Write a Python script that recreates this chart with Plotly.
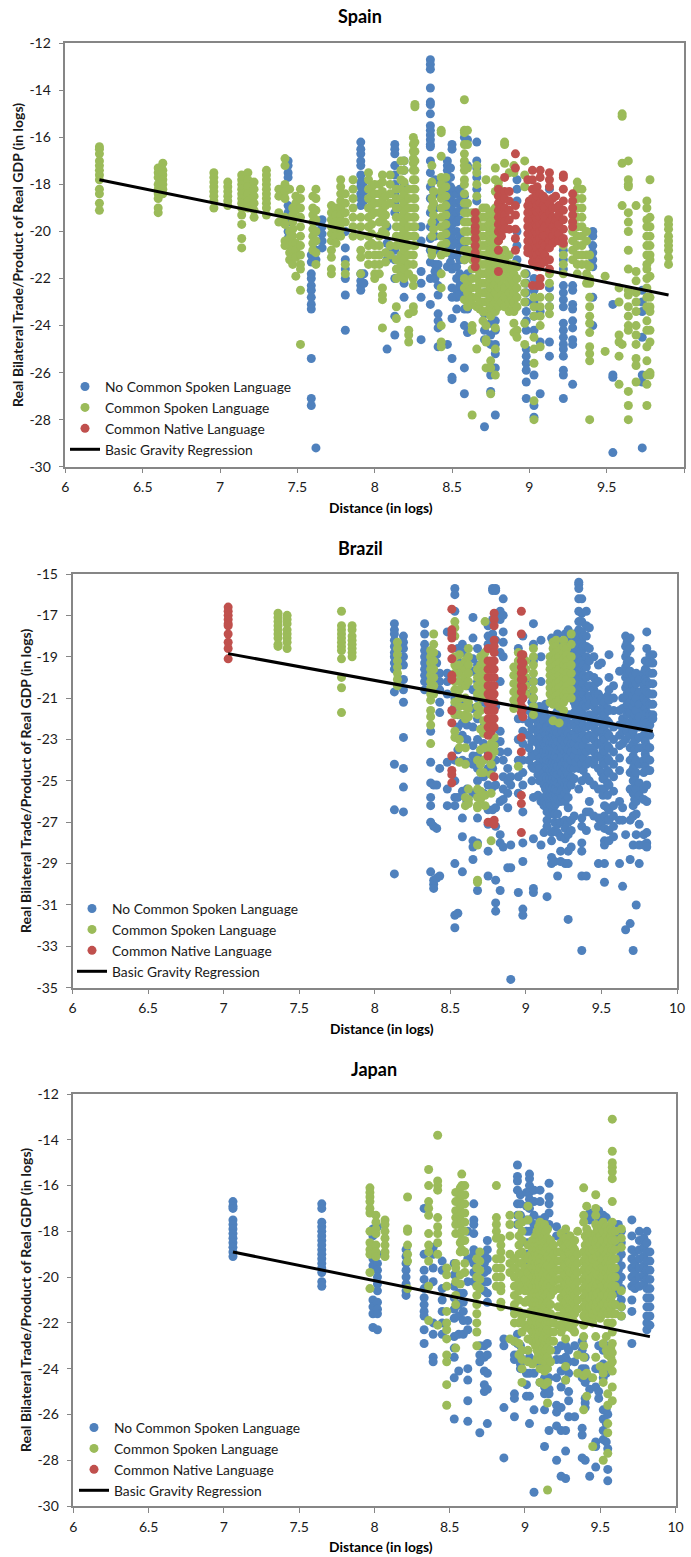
import plotly.graph_objects as go

SERIES_NAMES = ["No Common Spoken Language", "Common Spoken Language", "Common Native Language", "Basic Gravity Regression"]
COLORS = ["#4F81BD", "#9BBB59", "#C0504D", "#000000"]
X_TICKS = [6, 6.5, 7, 7.5, 8, 8.5, 9, 9.5, 10]
SPAIN_Y_TICKS = [-12, -14, -16, -18, -20, -22, -24, -26, -28, -30]
BRAZIL_Y_TICKS = [-15, -17, -19, -21, -23, -25, -27, -29, -31, -33, -35]
JAPAN_Y_TICKS = [-12, -14, -16, -18, -20, -22, -24, -26, -28, -30]

SPAIN_LINE_X = [6.22, 9.9]
SPAIN_LINE_Y = [-17.8, -22.7]
BRAZIL_LINE_X = [7.03, 9.84]
BRAZIL_LINE_Y = [-18.85, -22.6]
JAPAN_LINE_X = [7.06, 9.83]
JAPAN_LINE_Y = [-18.9, -22.6]

SPAIN_NONE = [
 (7.44,[-17.0,-17.2,-17.5,-17.7,-18.9,-19.2,-19.6,-20.0,-20.3]),
 (7.59,[-21.0,-21.3,-21.8,-22.0,-22.3,-22.5,-22.8,-23.1,-23.3,-25.4,-27.1,-27.4]),
 (7.62,[-29.2,-19.6,-20.0,-20.4,-20.8,-21.2]),
 (7.66,[-19.5,-19.8,-20.1,-20.4,-20.7]),
 (7.81,[-20.0,-20.7,-21.2,-21.6,-22.0,-22.7,-24.2]),
 (7.91,[-16.2,-16.5,-16.7,-17.0,-17.2,-17.6,-17.9,-18.1,-18.4,-18.6,-18.9,-21.8,-22.1,-22.3,-22.5]),
 (7.93,[-17.9,-18.3,-18.7,-21.8,-22.2]),
 (8.08,[-25.0,-20.5,-20.9,-21.2,-19.8]),
 (8.13,[-16.3,-16.5,-16.7,-17.2,-17.6,-18.0,-18.4,-18.8,-19.2,-20.8,-21.2,-22.0,-23.6,-24.4]),
 (8.19,[-17.0,-17.4,-18.0,-22.2,-22.8]),
 (8.30,[-19.8,-20.4,-21.7,-22.2,-22.8,-24.6]),
 (8.36,[-12.7,-12.9,-13.1,-13.9,-14.5,-14.6,-15.0,-15.5,-15.7,-15.9,-16.1,-16.3,-16.4,-17.0,-17.5,-18.1,-18.6,-19.2,-19.8,-20.3,-20.8,-21.3,-22.0,-23.1]),
 (8.39,[-17.8,-18.4,-19.0,-19.6,-20.2,-20.8,-21.4,-21.7,-22.0]),
 (8.41,[-21.4,-21.7,-22.3,-22.7,-23.5,-23.8,-24.1,-24.9]),
 (8.47,[-17.0,-17.2,-17.4,-17.7,-18.0,-18.4,-18.8,-19.2,-19.6,-20.0,-20.4,-20.8,-21.5,-24.8]),
 (8.49,[-17.3,-17.7,-18.1,-18.5,-18.9,-19.3,-19.7,-20.1,-20.5,-20.9,-21.3]),
 (8.50,[-16.3,-16.5,-18.2,-18.5,-18.8,-19.1,-19.4,-19.7,-20.0,-20.3,-20.6,-21.0,-21.6,-22.4,-22.8,-23.7,-25.4,-26.2,-26.3]),
 (8.53,[-18.4,-18.8,-19.2,-19.6,-20.0,-20.5,-21.0,-21.5,-22.0,-22.5,-22.8,-23.3]),
 (8.55,[-18.2,-18.7,-19.1,-19.5,-20.2,-20.7,-21.2,-21.8,-22.3,-22.7]),
 (8.58,[-16.0,-18.5,-19.0,-20.5,-21.2,-22.2,-22.5,-23.3,-24.0,-25.8,-26.9]),
 (8.60,[-16.1,-17.2,-21.8,-22.6,-23.3,-24.3]),
 (8.66,[-16.2,-17.0,-17.3,-17.7,-18.2,-18.7]),
 (8.71,[-22.6,-23.5,-24.2,-24.6,-28.3]),
 (8.75,[-23.4,-23.9,-24.4,-24.8,-26.1,-26.8]),
 (8.78,[-22.7,-23.2,-23.8,-24.2,-24.8,-25.2,-25.8,-27.8]),
 (8.92,[-17.8,-18.2,-18.7,-20.0,-20.6,-21.2]),
 (8.98,[-21.8,-22.2,-22.6,-23.0,-23.4,-23.8,-24.2,-25.0,-25.3,-25.6,-25.9,-26.4,-27.1]),
 (9.03,[-22.0,-22.5,-23.0,-23.6,-24.2,-26.1,-27.4,-27.9]),
 (9.07,[-23.4,-24.7,-26.9]),
 (9.13,[-18.2,-22.4,-22.8,-23.2,-24.7,-25.3]),
 (9.22,[-20.8,-21.2,-21.6,-22.3,-22.6,-22.9,-23.2,-23.9,-24.2,-24.5,-24.8,-25.0,-25.3,-25.9,-26.1,-27.1]),
 (9.28,[-22.3,-22.5,-23.1,-23.3,-23.8,-24.1,-24.6,-24.8,-26.5]),
 (9.41,[-20.0,-20.2,-20.6,-20.9,-21.2,-21.5,-22.8,-24.0]),
 (9.54,[-23.1,-26.1,-26.2,-29.4]),
 (9.73,[-22.5,-23.0,-23.4,-24.5,-26.1,-26.4,-29.2]),
]
SPAIN_SPOKEN = [
 (6.22,[-16.4,-16.5,-16.7,-17.0,-17.2,-17.4,-17.6,-17.8,-18.2,-18.4,-18.8,-19.1]),
 (6.60,[-17.3,-17.5,-17.7,-18.0,-18.2,-18.4,-18.6,-19.0,-19.2]),
 (6.63,[-17.1,-17.4,-17.6,-17.8,-18.0,-18.2,-18.4]),
 (6.96,[-17.5,-17.7,-17.9,-18.1,-18.3,-18.5,-18.7,-19.0]),
 (7.05,[-17.9,-18.1,-18.3,-18.5,-18.7,-18.9]),
 (7.14,[-17.6,-17.8,-18.0,-18.2,-18.4,-18.6,-18.8,-19.0,-19.3,-19.7,-20.3,-20.7]),
 (7.18,[-17.5,-17.8,-18.1,-18.4,-18.7,-19.0]),
 (7.22,[-17.9,-18.2,-18.5,-18.8,-19.1,-19.4]),
 (7.30,[-17.4,-17.6,-17.8,-18.0,-18.2,-18.4,-18.6,-18.8,-19.0,-19.3]),
 (7.38,[-18.2,-18.5,-19.2,-19.6]),
 (7.42,[-16.9,-17.2,-18.0,-18.3,-18.6,-19.4,-19.7,-20.4,-20.6]),
 (7.45,[-18.2,-20.0,-20.3,-20.6,-20.9,-21.2]),
 (7.47,[-19.0,-19.3,-19.6,-19.9,-20.2,-20.5,-20.8,-21.1,-21.4]),
 (7.49,[-18.5,-18.8,-19.1,-20.5,-20.8,-21.1,-21.9]),
 (7.52,[-18.2,-18.6,-19.0,-19.4,-19.8,-20.2,-20.6,-21.0,-21.4,-21.6,-22.5,-24.8]),
 (7.60,[-18.5,-19.0,-19.3,-19.6,-19.9,-20.2,-20.5,-20.8]),
 (7.62,[-18.2,-18.6,-19.1,-19.5,-20.0,-20.4,-20.9,-21.4]),
 (7.72,[-18.9,-19.2,-19.5,-19.8,-20.1,-20.4,-20.8,-21.1,-21.6,-21.8]),
 (7.75,[-19.0,-19.3,-19.6,-19.9,-20.2,-20.5]),
 (7.78,[-17.8,-18.1,-18.4,-18.7,-19.0,-19.3,-19.6,-19.9,-20.2]),
 (7.81,[-18.4,-18.8,-19.2,-19.6,-21.4,-21.8]),
 (7.86,[-17.8,-18.2,-18.6,-19.0,-19.4,-19.8,-20.2]),
 (7.91,[-19.4,-19.8,-20.2,-20.8,-21.1,-21.8]),
 (7.96,[-17.5,-17.8,-18.2,-18.6,-19.0,-19.4,-19.8,-20.2,-20.6,-21.0,-21.4]),
 (7.98,[-18.1,-18.5,-18.9,-19.3,-19.7,-20.1,-20.5]),
 (8.00,[-18.0,-18.4,-18.8,-19.2,-20.6,-21.0,-21.4,-21.8,-22.0]),
 (8.03,[-18.0,-18.4,-18.8,-19.2,-19.6,-20.2,-20.6,-21.0,-21.4,-21.8]),
 (8.05,[-17.6,-17.9,-18.3,-18.7,-19.1,-19.5,-20.0,-22.4,-22.7,-22.9,-24.1]),
 (8.07,[-18.5,-18.9,-19.3,-19.7,-20.1,-20.9,-21.3]),
 (8.10,[-17.6,-18.0,-18.4,-18.8,-20.6,-21.0]),
 (8.14,[-18.2,-18.6,-19.0,-19.4,-19.8,-20.2,-20.6,-21.2,-21.6,-22.0,-23.2,-23.7]),
 (8.17,[-17.0,-17.4,-17.8,-18.2,-18.6,-19.0,-19.4,-19.8,-20.2,-20.6,-21.0,-21.4,-21.8]),
 (8.19,[-17.0,-17.4,-17.9,-18.4,-18.8,-19.2,-19.6,-20.0,-20.4,-20.8,-21.2,-21.6,-22.0]),
 (8.22,[-18.2,-18.6,-19.0,-19.4,-19.8,-20.2,-20.6,-21.0,-21.4,-21.8,-23.5,-24.2,-24.4,-24.7]),
 (8.25,[-16.0,-16.3,-16.6,-16.9,-17.1,-17.4,-17.8,-18.2,-18.6,-19.0,-19.4,-19.8,-20.2,-20.6,-21.0,-21.4,-22.0,-22.3,-23.2,-23.4]),
 (8.26,[-14.6,-14.7,-16.2,-16.6,-17.0,-17.4,-17.8,-18.2,-18.6,-19.0,-19.4,-19.8,-20.2,-20.6]),
 (8.37,[-17.2,-17.9,-18.6,-19.0,-19.6,-20.2,-20.8,-21.0]),
 (8.38,[-18.3,-18.8,-19.3,-19.9]),
 (8.43,[-15.7,-15.8,-16.8,-17.7,-18.0,-18.3,-18.6,-19.0,-19.4,-19.8,-20.2,-20.6,-21.0,-21.8,-22.4,-24.0,-24.7,-24.9]),
 (8.46,[-17.7,-18.1,-18.5,-18.9,-19.3,-19.7,-20.1,-20.5,-20.9]),
 (8.58,[-14.4,-15.7,-15.8,-16.3,-16.7,-17.0,-17.2,-17.4,-17.8,-18.0,-18.4,-18.8,-19.2,-19.6,-20.0,-20.4,-20.8,-21.2,-22.0,-22.4,-22.9]),
 (8.60,[-15.7,-16.3,-17.3,-18.8,-19.2,-19.6,-20.0,-20.4,-20.8,-21.0,-22.2,-22.6,-23.0,-23.2]),
 (8.63,[-19.2,-19.6,-20.0,-20.4,-20.8,-21.2,-21.6,-22.0,-22.4,-22.8,-23.1,-24.0,-24.2,-27.8]),
 (8.66,[-17.2,-17.5,-18.0,-18.5,-19.2,-19.6,-20.0,-20.4,-20.8,-21.2,-21.6,-22.0,-22.4,-22.8,-23.2,-25.0]),
 (8.68,[-19.4,-19.8,-20.2,-20.6,-21.0,-21.4,-21.8,-22.2,-22.6,-23.0,-23.3]),
 (8.70,[-19.0,-19.4,-19.8,-20.2,-20.6,-21.0,-21.4,-21.8,-22.2,-22.6,-23.0,-23.4,-23.8]),
 (8.72,[-17.8,-19.0,-19.4,-19.8,-20.2,-20.6,-21.0,-21.4,-21.8,-22.2,-22.6,-23.0,-23.4,-24.0,-24.6,-24.7,-25.8]),
 (8.74,[-19.3,-19.7,-20.1,-20.5,-20.9,-21.3,-21.7,-22.1,-22.5,-22.9,-23.3]),
 (8.75,[-19.2,-19.6,-20.0,-20.4,-20.8,-21.2,-21.6,-22.0,-22.4,-22.8,-23.2,-23.6,-25.5,-25.8,-26.9]),
 (8.77,[-19.1,-19.5,-19.9,-20.3,-20.7,-21.1,-21.5,-21.9,-22.3,-22.7,-23.1]),
 (8.78,[-17.3,-17.8,-18.3,-19.0,-19.4,-19.8,-20.2,-20.6,-21.0,-21.4,-21.8,-22.2,-22.6,-23.0,-23.4,-24.1,-25.0,-26.1]),
 (8.80,[-17.9,-18.1,-19.2,-19.6,-20.0,-20.4,-20.8,-21.2,-21.6,-22.0,-22.4,-22.8,-23.2]),
 (8.82,[-21.1,-21.5,-21.9,-22.3,-22.7,-23.0]),
 (8.84,[-16.2,-16.3,-17.1,-20.8,-21.2,-21.6,-22.0,-22.4,-22.8,-23.2]),
 (8.87,[-17.5,-21.0,-21.4,-21.8,-22.2,-22.6,-23.0,-23.4]),
 (8.89,[-21.7,-22.1,-22.5,-22.9,-23.3]),
 (8.90,[-17.2,-17.5,-21.4,-21.8,-22.2,-22.6,-23.0,-23.4,-23.9,-24.3]),
 (8.92,[-21.5,-22.0,-22.4,-22.8,-23.2,-24.2,-24.5]),
 (8.97,[-17.0,-17.6,-18.1,-21.8,-22.2,-22.6,-23.0,-24.8,-23.9]),
 (9.03,[-22.8,-23.2,-23.6,-24.5,-25.0,-25.6,-27.2,-28.0]),
 (9.07,[-22.8,-23.2,-23.6,-24.0,-24.9]),
 (9.13,[-21.8,-22.2,-22.8,-23.2,-23.5]),
 (9.22,[-20.6,-21.0,-21.4,-21.8]),
 (9.28,[-19.6,-20.0,-20.4,-20.8,-21.2]),
 (9.31,[-17.9,-18.2,-18.6,-19.0,-19.4,-19.8,-20.2,-20.6,-21.0,-21.4,-21.8]),
 (9.34,[-18.2,-18.6,-19.0,-19.4,-19.8,-20.2,-20.6,-21.0,-21.4]),
 (9.37,[-20.0,-20.4,-21.0,-21.4,-21.8,-22.2]),
 (9.39,[-21.0,-21.5,-22.0,-22.2,-22.8,-23.2,-23.6,-23.9,-24.3,-24.9,-25.2,-25.5,-28.0]),
 (9.49,[-21.9,-25.1]),
 (9.58,[-22.4,-23.0,-24.4,-24.7,-25.3,-26.5]),
 (9.60,[-15.0,-15.1,-17.1,-18.9,-24.8]),
 (9.64,[-17.0,-17.8,-18.0,-18.1,-19.2,-19.6,-20.0,-20.8,-21.6,-22.5,-22.7,-23.2,-23.6,-24.0,-24.2,-26.8,-27.4,-28.0]),
 (9.69,[-18.9,-21.7,-22.1,-22.6,-23.0,-23.4,-24.0,-24.4,-24.8,-25.4,-25.7,-26.4]),
 (9.76,[-18.7,-19.0,-19.5,-19.8,-20.2,-20.6,-21.0,-21.4,-21.6,-22.0,-22.4,-22.8,-23.2,-23.8,-24.2,-24.9,-25.5,-26.1,-26.5,-27.4]),
 (9.78,[-17.8,-19.4,-19.8,-20.2,-20.6,-21.0,-21.2,-21.9,-22.8,-23.2,-23.4,-24.2,-24.7,-26.0,-26.1]),
 (9.90,[-19.5,-19.7,-19.9,-20.2,-20.4,-20.6,-20.8,-21.1,-21.4]),
]
SPAIN_NATIVE = [
 (8.65,[-19.2,-19.5,-19.8,-20.0,-20.3,-20.6,-20.9,-21.2,-21.5]),
 (8.80,[-18.2,-18.5,-18.8,-19.1,-19.4,-19.7,-20.0,-20.4,-20.8,-21.7]),
 (8.82,[-18.4,-18.7,-19.0,-19.3,-19.6,-19.9,-20.2]),
 (8.84,[-17.7,-18.3,-18.6,-19.0,-19.3,-19.6,-19.9]),
 (8.87,[-18.3,-18.7,-19.1,-19.5,-19.9]),
 (8.91,[-16.7,-17.3,-18.9,-19.3,-19.9,-20.3,-20.8]),
 (8.99,[-17.8,-18.9,-19.2,-19.5,-19.8,-20.1,-20.4,-20.7,-20.9]),
 (9.00,[-18.7,-19.1,-19.4,-19.7,-20.0,-20.3,-20.6]),
 (9.02,[-17.4,-17.8,-18.2,-18.6,-18.9,-19.2,-19.5,-19.8,-20.1,-20.4,-20.7,-21.0,-21.3,-22.3]),
 (9.04,[-18.3,-18.7,-19.1,-19.4,-19.7,-20.0,-20.3,-20.6,-20.9,-21.2]),
 (9.05,[-18.1,-18.5,-18.9,-19.2,-19.5,-19.8,-20.1,-20.4,-20.7,-21.0,-21.3,-21.5,-22.3]),
 (9.07,[-17.4,-17.7,-18.4,-18.8,-19.1,-19.4,-19.7,-20.0,-20.3,-20.6,-20.9,-21.2,-21.5,-22.0,-22.3]),
 (9.09,[-18.5,-18.9,-19.3,-19.6,-19.9,-20.2,-20.5,-20.8,-21.1]),
 (9.10,[-18.6,-19.0,-19.4,-19.8,-20.2,-20.6,-21.0,-21.3]),
 (9.13,[-17.5,-17.8,-18.1,-18.8,-19.2,-19.6,-20.0,-20.4,-20.7,-21.2,-21.6]),
 (9.15,[-18.6,-19.0,-19.4,-19.8,-20.2,-20.5]),
 (9.17,[-18.5,-19.0,-19.5,-20.0,-20.4]),
 (9.19,[-18.9,-19.3,-19.7,-20.1,-20.4]),
 (9.22,[-17.6,-17.7,-18.2,-18.7,-19.1,-19.5,-19.9,-20.3,-20.5]),
 (9.28,[-18.4,-18.7,-19.0,-19.3,-19.6,-19.8]),
]

BRAZIL_NONE = [
 (8.13,[-17.4,-17.7,-17.9,-18.2,-18.5,-18.8,-19.0,-19.3,-19.6,-20.7,-24.2,-26.4,-29.5]),
 (8.19,[-18.0,-18.3,-18.6,-19.0,-19.4,-20.1,-20.6,-21.2,-22.9,-24.4,-25.3,-26.5]),
 (8.33,[-17.4,-17.9,-18.4,-18.7,-19.0,-19.3,-19.6,-19.9,-20.2,-20.6]),
 (8.37,[-19.0,-19.5,-22.6,-24.1,-25.1,-25.8,-26.2,-27.0,-29.4]),
 (8.39,[-25.2,-27.2,-30.0,-30.2,-29.8]),
 (8.41,[-18.9,-19.3,-25.2,-27.3,-29.7]),
 (8.43,[-19.8,-20.2,-20.6,-21.2,-21.7,-24.4,-29.6]),
 (8.48,[-19.8,-20.2,-20.8,-24.1,-25.4,-26.2,-17.8]),
 (8.53,[-15.7,-16.0,-16.8,-21.0,-21.4,-24.0,-25.0,-25.8,-26.2,-29.0,-31.5,-32.1]),
 (8.55,[-18.6,-19.2,-19.8,-21.8,-22.4,-23.5,-25.8,-31.4]),
 (8.58,[-18.4,-18.8,-19.6,-20.2,-21.1,-22.2,-22.8,-24.0,-25.5,-26.8,-27.7,-29.4]),
 (8.61,[-19.4,-20.4,-21.2,-22.3,-23.0,-24.1,-25.4,-26.0]),
 (8.65,[-17.1,-18.1,-19.1,-19.7,-20.6,-21.5,-22.4,-23.3,-23.8,-24.2,-25.6,-27.9,-28.2,-28.8]),
 (8.68,[-18.6,-19.4,-20.2,-21.0,-22.0,-23.0,-23.8,-24.4,-25.0,-26.8,-28.0,-30.3]),
 (8.72,[-18.9,-19.7,-20.5,-21.2,-22.4,-23.2,-24.0,-24.8,-25.6]),
 (8.75,[-17.5,-18.0,-18.4,-19.4,-20.4,-21.4,-22.6,-23.6,-24.4,-25.2,-26.4,-27.1,-28.4,-29.6]),
 (8.78,[-15.7,-15.8,-17.2,-17.9,-21.5,-22.5,-23.5,-24.4,-25.3,-26.4]),
 (8.80,[-15.7,-15.8,-17.0,-18.2,-21.4,-23.2,-24.0,-25.2,-26.3,-27.2,-29.8,-30.9,-31.3]),
 (8.83,[-16.8,-17.2,-18.8,-20.2,-22.6,-23.1,-23.6,-26.0,-27.6,-28.0,-30.3]),
 (8.85,[-16.2,-17.0,-17.8,-18.3,-19.0,-24.0,-24.8,-25.4,-25.9,-28.2]),
 (8.88,[-23.6,-24.4,-25.0,-25.6,-26.3,-29.2]),
 (8.90,[-28.1,-29.2,-34.6,-24.8,-25.2]),
 (8.95,[-18.6,-20.0,-22.0,-23.0,-24.0,-24.8,-25.6,-30.4]),
 (8.98,[-18.0,-19.0,-20.0,-21.0,-22.0,-22.6,-23.2,-24.0,-24.6,-25.2,-26.5,-28.0,-28.9,-31.2,-31.5]),
 (9.02,[-20.2,-20.8,-21.6,-22.2,-22.8,-23.4,-24.0]),
 (9.04,[-21.2,-21.9,-22.5,-23.1,-23.7,-24.3,-25.0]),
 (9.05,[-17.4,-18.4,-19.2,-20.2,-21.0,-22.0,-23.0,-23.8,-24.4,-25.8,-27.8,-30.4,-30.2]),
 (9.08,[-21.8,-22.3,-22.7,-23.2,-23.6,-24.2,-24.7,-25.7]),
 (9.09,[-21.4,-22.0,-22.5,-23.0,-23.4,-23.9,-24.4,-25.0]),
 (9.10,[-18.2,-19.0,-20.2,-21.5,-22.0,-22.4,-22.9,-23.3,-26.0,-28.1]),
 (9.12,[-21.6,-22.1,-22.6,-23.2,-23.6,-24.0,-24.6,-25.2,-25.8,-26.2,-27.5]),
 (9.13,[-21.3,-21.9,-22.4,-22.8,-23.3,-23.8,-24.3,-24.8,-25.4,-26.0]),
 (9.14,[-22.4,-23.0,-23.5,-24.0,-24.4,-24.9,-25.3,-25.7,-26.1,-26.5,-26.9,-27.2,-30.6]),
 (9.16,[-22.2,-22.7,-23.2,-23.6,-24.1,-24.5,-24.9,-25.3,-25.7,-26.1,-26.6]),
 (9.17,[-18.1,-22.0,-22.5,-22.9,-23.4,-23.8,-24.2,-24.6,-25.0,-25.4,-25.8,-26.2,-27.5,-27.9,-28.7,-29.0]),
 (9.18,[-21.9,-22.3,-22.8,-23.2,-23.7,-24.1,-24.5,-24.9,-25.3,-25.7,-26.4]),
 (9.19,[-21.8,-22.2,-22.6,-23.0,-23.4,-23.8,-24.2,-24.6,-25.0,-25.4,-25.8,-26.2,-26.6,-27.0,-27.4,-28.9]),
 (9.20,[-22.1,-22.5,-22.9,-23.3,-23.7,-24.1,-24.5,-24.9,-25.3,-25.7,-26.1]),
 (9.21,[-17.9,-21.6,-22.2,-22.7,-23.1,-23.5,-23.9,-24.3,-24.7,-25.1,-25.5,-25.9,-26.6,-27.1,-27.5,-29.6]),
 (9.23,[-18.3,-21.8,-22.3,-22.8,-23.2,-23.6,-24.0,-24.4,-24.8,-25.2,-25.6,-26.0,-27.0,-27.7,-28.4,-28.9]),
 (9.24,[-21.9,-22.6,-23.0,-23.4,-23.8,-24.2,-24.6,-25.0,-25.4,-25.8]),
 (9.26,[-17.9,-22.0,-22.4,-22.8,-23.2,-23.6,-24.0,-24.4,-24.8,-25.2,-25.6,-26.0,-26.9,-27.3,-27.8,-29.0]),
 (9.27,[-22.2,-22.6,-23.0,-23.4,-23.8,-24.2,-24.6,-25.0,-25.4]),
 (9.28,[-17.7,-18.2,-18.7,-21.8,-22.2,-22.7,-23.1,-23.5,-23.9,-24.3,-24.7,-25.2,-25.8,-26.3,-27.0,-27.6,-28.4,-29.0,-31.7]),
 (9.30,[-18.5,-18.9,-21.8,-22.3,-22.8,-23.2,-23.6,-24.0,-24.4,-24.8,-25.2,-26.9,-27.4,-28.2]),
 (9.32,[-17.9,-18.4,-18.8,-19.2,-19.6,-20.0,-20.4,-20.8,-21.2,-21.7,-22.2,-22.7,-23.2,-23.8,-24.4,-24.9,-26.7]),
 (9.33,[-18.2,-18.6,-19.0,-19.4,-19.8,-20.2,-20.6,-21.0,-21.4,-21.9,-22.4,-22.9,-23.5,-24.1]),
 (9.35,[-15.4,-15.5,-15.7,-16.2,-16.8,-17.3,-17.7,-18.1,-18.5,-18.9,-19.3,-19.7,-20.1,-20.5,-20.9,-21.3,-21.7,-22.1,-22.5,-22.9,-23.3,-23.9,-24.4,-25.4]),
 (9.37,[-16.2,-16.9,-17.3,-17.8,-18.3,-18.7,-19.2,-19.6,-20.0,-20.5,-21.0,-21.5,-22.0,-22.5,-23.0,-23.6,-24.2,-25.0,-26.8,-27.2,-28.0,-28.4,-29.6,-33.2]),
 (9.38,[-18.0,-18.5,-19.4,-19.9,-20.3,-20.8,-21.3,-21.8,-22.3,-22.8,-23.3,-23.9,-24.5]),
 (9.40,[-16.8,-17.5,-18.0,-18.5,-19.0,-19.5,-20.0,-20.5,-21.0,-21.4,-21.9,-22.4,-23.0,-23.6,-24.2,-24.8,-26.5,-27.4,-29.6]),
 (9.42,[-17.6,-18.6,-19.2,-19.9,-20.4,-20.9,-21.3,-21.8,-22.3,-22.8,-23.4,-24.0,-25.0,-26.0,-26.5]),
 (9.45,[-19.0,-20.0,-20.6,-21.0,-21.4,-22.0,-22.4,-23.0,-23.6,-24.2,-25.2,-26.7]),
 (9.46,[-20.3,-20.8,-21.2,-21.7,-22.2,-22.7,-23.3,-23.9]),
 (9.48,[-19.4,-20.2,-20.8,-21.6,-22.1,-22.6,-23.2,-23.8,-24.4,-25.4,-26.8,-27.2,-29.0]),
 (9.50,[-19.3,-21.0,-21.6,-22.0,-22.6,-23.2,-23.8,-24.6,-25.4,-26.8,-27.0]),
 (9.51,[-21.3,-21.9,-22.3,-22.9,-23.5,-24.1,-24.9,-25.7]),
 (9.52,[-21.2,-21.8,-22.4,-23.0,-23.6,-24.2,-24.8,-25.4,-26.2,-26.7,-27.3,-27.9,-28.1,-29.0,-29.9]),
 (9.54,[-20.9,-21.5,-22.1,-22.7,-23.3,-23.9,-24.5,-25.1,-25.7,-26.3,-26.9]),
 (9.55,[-18.9,-20.0,-20.6,-21.1,-21.6,-22.2,-22.8,-23.4,-24.0,-24.6,-25.2,-26.4,-26.9,-27.4,-27.9]),
 (9.58,[-20.4,-21.0,-21.6,-22.4,-23.0,-23.6,-24.2,-24.8,-25.5,-26.2,-26.7,-27.2,-27.7]),
 (9.62,[-19.7,-21.6,-22.3,-22.8,-23.3,-23.9,-24.5,-26.0,-26.9,-29.0]),
 (9.64,[-21.0,-21.5,-22.0,-22.6,-23.2,-26.3,-26.9,-30.1]),
 (9.66,[-18.0,-18.5,-19.0,-19.5,-20.0,-20.5,-21.0,-21.5,-22.2,-23.0,-27.6,-32.2]),
 (9.67,[-18.3,-18.8,-19.3,-19.8,-20.3,-20.8,-21.3,-21.8,-22.6]),
 (9.69,[-18.1,-18.6,-19.2,-19.7,-20.2,-20.7,-21.2,-21.7,-22.2,-22.8,-23.4,-24.0,-24.6,-25.4,-26.9,-28.8,-31.9]),
 (9.71,[-19.9,-20.4,-20.9,-21.4,-22.0,-22.6,-23.2,-23.8,-24.4,-25.0,-25.6,-26.2,-26.7,-28.1,-33.2]),
 (9.72,[-20.1,-20.6,-21.2,-21.8,-22.3,-22.9,-23.5,-24.2,-24.8,-25.3,-25.9]),
 (9.73,[-19.8,-20.3,-21.0,-21.6,-22.2,-23.0,-24.0,-24.6,-25.4,-26.0,-26.6,-27.6,-31.0]),
 (9.75,[-20.1,-20.7,-21.3,-21.9,-22.4,-22.9,-23.4,-24.2,-25.1,-25.7,-27.1,-28.1,-29.0]),
 (9.78,[-19.8,-20.4,-21.0,-21.6,-22.2,-22.8,-23.4,-24.0,-24.6,-25.4,-25.9,-27.6,-28.1]),
 (9.79,[-19.2,-19.6,-20.1,-20.6,-21.1,-21.5,-22.0,-22.5,-23.1,-23.7,-24.3]),
 (9.80,[-17.8,-18.6,-19.2,-19.7,-20.2,-20.7,-21.2,-21.7,-22.2,-22.7,-23.3,-23.9,-24.5,-25.2,-26.0,-27.5,-28.0,-28.2]),
 (9.82,[-18.9,-19.3,-19.8,-20.3,-20.8,-21.3,-21.8,-22.3,-22.8,-23.4,-24.0,-24.5]),
 (9.84,[-18.9,-19.3,-19.8,-20.3,-20.8,-21.3,-21.8,-22.0]),
]
BRAZIL_SPOKEN = [
 (7.36,[-16.9,-17.1,-17.3,-17.5,-17.7,-17.9,-18.1,-18.4,-18.5]),
 (7.42,[-17.0,-17.2,-17.4,-17.7,-17.9,-18.1,-18.3,-18.6]),
 (7.78,[-16.8,-17.5,-17.7,-17.9,-18.1,-18.3,-18.5,-18.7,-19.1,-20.0,-20.5,-21.7]),
 (7.85,[-17.5,-17.7,-18.0,-18.2,-18.4,-18.6,-18.8,-19.0]),
 (8.15,[-18.3,-18.6,-18.9,-19.2,-19.5,-19.8,-20.1,-20.4]),
 (8.37,[-18.7,-19.0,-19.3,-19.6,-19.9,-20.2,-20.5,-20.8,-21.1,-21.6,-21.9,-22.3,-23.2]),
 (8.39,[-17.9,-18.4,-18.8,-19.2,-19.6,-20.0,-20.4,-20.8]),
 (8.53,[-17.3,-17.6,-18.0,-19.0,-19.4,-19.8,-20.2,-20.6,-21.2,-21.8,-22.6,-22.9]),
 (8.56,[-18.9,-19.4,-19.8,-20.2,-20.6,-21.0,-21.4,-21.8,-23.0,-23.4,-24.1]),
 (8.60,[-19.2,-19.6,-20.0,-20.4,-21.0,-21.4,-21.8,-22.0,-23.4,-24.2,-25.8,-26.2]),
 (8.62,[-18.6,-19.0,-19.4,-19.8,-20.2,-21.2,-21.5,-21.9,-25.4,-25.9,-26.1]),
 (8.68,[-19.6,-20.0,-20.4,-20.8,-21.4,-21.8,-24.0,-25.4,-25.8,-26.2,-26.3,-28.1,-29.8,-29.9]),
 (8.70,[-19.0,-19.4,-19.8,-20.2,-20.6,-21.0,-21.6,-22.5,-23.5,-24.2,-24.6,-25.5,-25.9]),
 (8.72,[-18.9,-19.3,-19.7,-20.1,-20.5,-20.9,-22.1,-22.7,-24.0,-24.6]),
 (8.73,[-17.3,-18.8,-19.2,-19.6,-22.4,-22.7,-23.4,-25.7,-26.2]),
 (8.77,[-22.3,-22.8,-23.2,-23.5,-23.8,-24.2,-24.7,-25.6,-27.9]),
 (8.79,[-22.9,-23.3,-23.6]),
 (8.92,[-19.5,-19.9,-20.3,-20.7,-21.1,-21.5]),
 (8.95,[-18.8,-19.2,-19.6,-20.0,-20.4,-20.8,-21.2,-24.3]),
 (9.00,[-19.2,-19.6,-20.0,-20.4,-20.8]),
 (9.05,[-18.6,-19.0,-19.4,-19.8,-20.2,-20.6,-21.0,-21.4,-21.8]),
 (9.16,[-19.0,-19.3,-19.6,-19.9,-20.2,-20.5,-20.8,-21.2]),
 (9.18,[-18.3,-18.6,-18.9,-19.2,-19.5,-19.8,-20.1,-20.4,-20.7,-21.0,-21.3,-22.1]),
 (9.20,[-18.2,-18.5,-18.8,-19.1,-19.4,-19.7,-20.0,-20.3,-20.6,-20.9,-21.2]),
 (9.22,[-18.7,-19.0,-19.3,-19.6,-19.9,-20.2,-20.5,-20.8,-21.1,-21.4,-22.2]),
 (9.25,[-18.2,-18.5,-18.8,-19.1,-19.4,-19.7,-20.0,-20.3,-20.6,-20.9,-21.2,-21.6]),
 (9.27,[-18.6,-18.9,-19.2,-19.5,-19.8,-20.1,-20.4,-20.7,-21.0]),
 (9.30,[-17.9,-18.4,-19.0,-19.4,-19.8,-20.2,-20.6,-21.0]),
]
BRAZIL_NATIVE = [
 (7.03,[-16.6,-16.8,-17.0,-17.2,-17.4,-17.5,-17.9,-18.3,-18.6,-19.1]),
 (8.51,[-16.7,-17.7,-17.9,-18.1,-18.6,-19.1,-19.9,-20.1,-21.6,-22.2,-23.8,-24.5,-24.7,-25.1]),
 (8.75,[-18.6,-19.2,-19.6,-20.0,-20.4,-20.8,-21.2,-21.6,-22.0,-22.4,-22.8,-23.8,-27.0]),
 (8.77,[-19.2,-19.6,-20.0,-20.4,-20.8,-21.2,-21.6,-22.0,-22.4,-22.6]),
 (8.79,[-16.9,-17.2,-17.5,-18.2,-18.5,-18.8,-19.2,-19.6,-20.0,-20.4,-20.8,-21.2,-21.6,-22.0,-22.4,-24.8,-26.9,-27.1]),
 (8.97,[-16.8,-17.9,-18.9,-19.2,-19.5,-19.8,-20.1,-20.4,-20.7,-21.1,-21.4,-21.7,-22.9,-23.6,-25.7,-26.1,-27.5]),
 (8.98,[-18.9,-19.3,-19.7,-20.1,-20.5,-21.0,-21.5,-21.9]),
]

JAPAN_NONE = [
 (7.06,[-16.7,-16.9,-17.0,-17.5,-17.7,-17.9,-18.1,-18.3,-18.5,-18.7,-18.9,-19.1]),
 (7.65,[-16.8,-17.0,-17.6,-17.8,-18.0,-18.2,-18.4,-18.6,-18.8,-19.0,-19.2,-19.4,-19.6,-19.8,-20.2,-20.4]),
 (7.99,[-17.9,-18.2,-19.2,-19.5,-21.0,-21.3,-21.6,-22.2]),
 (8.02,[-17.8,-19.0,-19.4,-19.7,-20.0,-20.3,-20.6,-21.1,-21.4,-21.6,-22.3]),
 (8.21,[-18.8,-19.1,-19.4,-19.7,-20.0,-20.3,-20.6,-20.8]),
 (8.33,[-17.0,-19.0,-19.7,-20.1,-20.5,-20.9,-21.2,-21.5,-21.7,-22.3,-22.9]),
 (8.39,[-18.7,-19.0,-19.6,-20.2,-22.0,-22.5,-23.5,-23.7]),
 (8.45,[-19.3,-19.7,-20.5,-21.0,-21.5,-22.0,-22.5]),
 (8.53,[-19.4,-19.9,-20.4,-20.9,-21.4,-21.8,-22.6,-23.1,-23.5,-24.4,-26.2]),
 (8.56,[-20.7,-21.2,-21.7,-22.5,-24.1]),
 (8.59,[-20.7,-21.1,-21.5,-21.9,-22.5]),
 (8.62,[-18.0,-19.2,-20.2,-21.9,-22.3,-24.0,-24.5,-25.4,-26.3]),
 (8.66,[-16.8,-17.5,-17.7,-18.1,-18.8,-19.0,-19.4,-19.8,-20.2]),
 (8.70,[-23.0,-23.4,-23.7,-26.8]),
 (8.73,[-19.0,-19.4,-19.8,-20.2,-20.6,-23.0,-23.5,-24.1,-24.7,-25.0]),
 (8.75,[-18.4,-18.8,-19.2,-19.7,-20.2,-20.7,-21.1,-22.9,-23.4,-24.2,-24.9,-26.4]),
 (8.86,[-22.7,-23.0,-25.7,-27.9]),
 (8.93,[-21.4,-22.8,-23.4,-23.6,-25.1,-25.3,-26.1]),
 (8.95,[-15.1,-15.6,-15.8,-16.2,-16.8,-17.3,-17.7,-22.5,-22.9,-23.4]),
 (8.97,[-16.4,-16.8,-17.3,-23.0,-23.5,-23.8,-24.0]),
 (9.01,[-16.3,-16.9,-17.5,-18.0,-18.5,-19.0,-19.5,-20.0,-24.2,-24.7,-25.2]),
 (9.03,[-15.5,-15.7,-16.0,-16.3,-16.6,-17.0,-17.5,-18.0,-18.5,-19.0,-23.5,-24.2,-25.2,-26.4]),
 (9.06,[-16.2,-16.7,-17.3,-17.7,-24.2,-25.8,-29.4]),
 (9.10,[-16.2,-16.7,-17.5,-23.2,-23.8,-24.6]),
 (9.13,[-17.4,-17.9,-24.4,-24.8,-25.1,-25.8,-27.4]),
 (9.16,[-15.9,-16.5,-16.8,-17.2,-17.7,-24.4,-24.9,-25.1,-26.7]),
 (9.21,[-17.8,-18.2,-23.2,-23.6,-24.4,-25.6,-25.9,-26.5,-28.0]),
 (9.24,[-23.0,-23.6,-24.1,-24.8,-25.7,-26.7,-28.7]),
 (9.27,[-23.0,-23.5,-24.0,-24.5,-26.7,-27.6,-28.8]),
 (9.29,[-18.2,-23.2,-23.7,-24.2,-25.0,-25.4,-26.1]),
 (9.33,[-23.0,-23.7,-26.1]),
 (9.38,[-22.8,-23.2,-24.0,-24.4,-26.6,-26.9,-27.9]),
 (9.40,[-23.5,-24.0,-24.6,-25.3,-25.5,-25.7,-28.0]),
 (9.43,[-17.2,-17.5,-24.4,-24.9,-28.7]),
 (9.47,[-17.2,-24.0,-24.8,-27.2,-27.4,-28.3]),
 (9.49,[-17.1,-17.5,-23.0,-24.0,-25.0,-25.3]),
 (9.52,[-17.3,-23.2,-23.8,-24.4,-25.8,-26.2,-26.7,-27.1]),
 (9.54,[-17.4,-23.0,-24.2,-25.8,-26.4,-27.2]),
 (9.55,[-24.0,-26.0,-27.5,-28.4,-28.9]),
 (9.62,[-17.7,-18.2,-18.7,-19.2,-19.7,-20.2,-20.7,-21.2]),
 (9.64,[-18.0,-18.5,-19.0,-19.5,-20.0,-20.5,-21.0,-21.3,-21.7]),
 (9.71,[-17.5,-18.2,-18.8,-19.2,-19.6,-20.0,-20.4,-21.0,-21.5,-22.9]),
 (9.73,[-18.9,-19.4,-19.8,-20.2,-20.5]),
 (9.76,[-18.0,-18.4,-18.8,-19.2,-19.6,-20.0,-20.4]),
 (9.79,[-18.3,-18.7,-19.1,-19.5,-19.9,-20.3]),
 (9.81,[-18.0,-18.5,-18.9,-19.3,-19.7,-20.1,-20.5,-20.9,-21.3,-21.7,-22.0,-22.3]),
 (9.83,[-18.9,-19.3,-19.7,-20.1,-20.5,-20.9,-21.3,-21.7,-22.1]),
]
JAPAN_SPOKEN = [
 (7.97,[-16.1,-16.3,-16.5,-16.7,-17.0,-17.2,-18.0,-18.5,-18.8,-19.0,-19.8,-20.5]),
 (8.01,[-17.3,-17.6,-17.9,-18.1,-18.6,-18.9,-19.1]),
 (8.07,[-17.5,-17.7,-18.0,-18.3,-18.6,-18.9,-19.1]),
 (8.22,[-16.5,-17.9,-18.0,-18.6,-19.0,-19.3,-20.5]),
 (8.36,[-15.3,-16.0,-16.7,-17.0,-17.3,-18.1,-18.6,-18.9,-19.3,-20.4,-21.9]),
 (8.42,[-13.8,-15.8,-16.0,-16.2,-17.4,-17.8,-18.1,-18.5,-19.0,-22.1]),
 (8.48,[-19.6,-19.9,-20.4,-21.5,-22.0,-22.3,-22.7,-23.4,-23.7,-24.7,-25.6]),
 (8.54,[-16.3,-16.7,-17.1,-17.4,-17.7,-18.1,-19.4,-19.6,-20.2,-20.8,-21.2,-23.1]),
 (8.57,[-16.1,-16.5,-16.9,-17.3,-17.7,-18.1,-18.5,-18.9,-19.9,-20.3]),
 (8.58,[-15.5,-16.0,-16.4,-16.8,-17.2,-17.6,-18.0,-18.4,-18.8]),
 (8.60,[-16.0,-16.4,-16.8,-17.2,-17.6,-18.0,-18.4,-18.9,-19.4,-19.8]),
 (8.68,[-19.2,-19.6,-20.0,-20.4,-20.8,-21.2,-21.6,-22.0,-22.4,-23.0]),
 (8.70,[-18.9,-19.3,-19.7,-20.1,-20.5]),
 (8.81,[-16.0,-17.4,-17.7,-18.0,-18.3,-19.2,-19.6,-20.0,-20.4]),
 (8.84,[-18.3,-18.6,-18.9,-19.2,-19.6,-20.0,-20.4,-20.6,-21.1,-21.3]),
 (8.90,[-17.3,-17.7,-18.2,-19.0,-19.4,-19.8,-22.7]),
 (8.93,[-19.2,-19.6,-20.0,-20.4,-20.8,-21.2,-21.6,-22.0,-22.8]),
 (8.96,[-17.3,-17.7,-18.2,-18.6,-19.0,-19.4,-19.8,-20.2,-20.6,-21.0,-21.5,-22.0,-22.9,-23.4]),
 (8.98,[-17.6,-18.0,-18.4,-18.9,-19.4,-19.9,-20.4,-21.8,-22.4,-23.2,-23.6,-24.0,-24.6]),
 (9.00,[-19.1,-19.6,-20.1,-20.6,-21.1,-21.6,-22.1]),
 (9.02,[-16.9,-17.5,-18.6,-19.2,-19.8,-20.4,-21.0,-21.6,-22.2,-22.7,-23.2,-23.7]),
 (9.04,[-18.6,-19.0,-19.5,-19.9,-20.3,-20.7,-21.1,-21.5,-21.9,-22.3]),
 (9.05,[-18.4,-18.8,-19.2,-19.6,-20.0,-20.4,-20.8,-21.2,-21.6,-22.0,-22.4,-22.8,-23.8]),
 (9.07,[-18.2,-18.6,-19.0,-19.4,-19.8,-20.2,-20.6,-21.0,-21.4,-21.8,-22.2,-22.6,-23.0]),
 (9.08,[-18.0,-18.4,-18.8,-19.2,-19.6,-20.0,-20.4,-20.8,-21.2,-21.6,-22.0,-22.4,-22.8,-23.2,-23.6]),
 (9.09,[-17.8,-18.2,-18.6,-19.0,-19.4,-19.8,-20.2,-20.6,-21.0,-21.4,-21.8,-22.2,-22.6,-23.0,-23.4]),
 (9.10,[-17.6,-18.0,-18.4,-18.8,-19.2,-19.6,-20.0,-20.4,-20.8,-21.2,-21.6,-22.0,-22.4,-22.8,-23.2,-23.6,-24.0,-24.6]),
 (9.12,[-17.9,-18.3,-18.7,-19.1,-19.5,-19.9,-20.3,-20.7,-21.1,-21.5,-21.9,-22.3,-22.7,-23.1,-23.5]),
 (9.13,[-17.7,-18.1,-18.5,-18.9,-19.3,-19.7,-20.1,-20.5,-20.9,-21.3,-21.7,-22.1,-22.5,-22.9,-23.3,-23.7,-24.1,-24.7]),
 (9.14,[-18.0,-18.4,-18.8,-19.2,-19.6,-20.0,-20.4,-20.8,-21.2,-21.6,-22.0,-22.4,-22.8,-23.2,-23.7]),
 (9.15,[-17.9,-18.3,-18.7,-19.1,-19.5,-19.9,-20.3,-20.7,-21.1,-21.5,-21.9,-22.3,-22.7,-23.1,-23.5,-24.0,-24.6,-25.5,-29.3]),
 (9.17,[-18.4,-18.8,-19.2,-19.6,-20.0,-20.4,-20.8,-21.2,-21.6,-22.0,-22.4,-22.8,-23.2,-23.7]),
 (9.19,[-18.6,-19.0,-19.4,-19.8,-20.2,-20.6,-22.0,-22.4,-22.8]),
 (9.22,[-18.9,-19.3,-19.7,-20.1,-20.5,-21.3,-21.7,-22.1]),
 (9.24,[-18.1,-18.5,-18.9,-19.3,-19.7,-20.1,-20.5,-20.9,-21.3,-21.7,-22.1,-22.4]),
 (9.26,[-18.3,-18.7,-19.1,-19.5,-19.9,-20.3,-20.7,-21.1,-21.5,-21.9,-22.2]),
 (9.27,[-17.9,-18.3,-18.7,-19.1,-19.5,-19.9,-20.3,-20.7,-21.1,-21.5,-21.9,-22.7,-23.9,-24.5]),
 (9.29,[-18.5,-18.9,-19.3,-19.7,-20.1,-20.5,-20.9,-21.3,-21.7,-22.1]),
 (9.30,[-18.2,-18.6,-19.0,-19.4,-19.8,-20.2,-20.6,-21.0,-21.4,-21.8,-22.2]),
 (9.32,[-18.7,-19.1,-19.5,-19.9,-20.3,-20.7,-21.1,-21.5,-21.9,-22.3]),
 (9.33,[-18.4,-18.8,-19.2,-19.6,-20.0,-20.4,-20.8,-21.2,-21.6,-22.0,-22.4]),
 (9.35,[-18.0,-19.0,-19.4,-19.8,-20.2,-20.6,-21.0,-21.4,-23.4,-24.2]),
 (9.39,[-16.1,-17.3,-17.6,-18.9,-19.3,-19.7,-20.1,-20.5,-20.9,-21.3,-21.7,-22.1,-22.6,-23.0,-23.5,-24.3,-25.8]),
 (9.40,[-18.2,-18.6,-19.2,-19.6,-20.0,-20.4,-20.8,-21.2,-21.6,-22.0]),
 (9.41,[-16.9,-17.9,-18.3,-18.7,-19.1,-19.5,-19.9,-20.3,-20.7,-21.1,-21.5,-21.9,-24.2,-25.2]),
 (9.43,[-18.1,-18.5,-18.9,-19.3,-19.7,-20.1,-20.5,-20.9,-21.3,-21.7]),
 (9.45,[-18.4,-18.8,-19.2,-19.6,-20.0,-20.4,-20.8,-21.2,-21.6,-22.0,-24.4,-27.4]),
 (9.47,[-16.4,-17.0,-17.3,-17.7,-18.1,-18.5,-18.9,-19.3,-19.7,-20.1,-20.5,-20.9,-21.3,-21.7,-22.6,-23.5]),
 (9.48,[-17.9,-18.3,-18.7,-19.1,-19.5,-19.9,-20.3,-20.7,-21.1,-21.5]),
 (9.50,[-18.2,-18.6,-19.0,-19.4,-19.8,-20.2,-20.6,-21.0,-21.4,-21.8,-23.9]),
 (9.51,[-17.8,-18.4,-18.8,-19.2,-19.6,-20.0,-20.4,-20.8,-21.2,-21.6]),
 (9.52,[-17.6,-18.0,-18.4,-18.8,-19.2,-19.6,-20.0,-20.4,-20.8,-21.2,-21.6,-22.9,-24.2,-24.6,-28.0]),
 (9.54,[-17.8,-18.2,-18.6,-19.0,-19.4,-19.8,-20.2,-20.6,-21.0,-21.4,-22.6,-23.2]),
 (9.55,[-18.0,-18.4,-18.8,-19.2,-19.6,-20.0,-20.4,-20.8,-21.2,-21.6,-22.0,-23.4,-23.9,-25.1,-25.6,-26.4,-26.8,-27.7]),
 (9.57,[-17.9,-18.2,-18.6,-19.0,-19.4,-19.8,-20.2,-20.6,-21.0,-21.4,-23.1,-23.5,-23.8]),
 (9.58,[-13.1,-14.5,-15.0,-15.2,-15.4,-15.7,-16.7,-17.6,-18.0,-18.4,-18.8,-19.2,-19.6,-20.0,-20.4,-20.8,-21.2,-21.6,-22.0,-22.4,-22.9,-23.3,-23.7,-24.1,-24.8,-25.4]),
 (9.60,[-18.0,-18.4,-18.8,-19.2,-19.6,-20.0,-20.4,-21.2,-21.6]),
 (9.64,[-17.9,-18.3,-18.7,-20.6,-21.3,-21.7]),
]
JAPAN_NATIVE = []

def flatten(cols):
    xs, ys = [], []
    for x, vals in cols:
        xs += [x] * len(vals)
        ys += vals
    return xs or [None], ys or [None]

W, H = 691, 1557
CHARTS = [
    dict(title="Spain", none=SPAIN_NONE, spoken=SPAIN_SPOKEN, native=SPAIN_NATIVE, lx=SPAIN_LINE_X, ly=SPAIN_LINE_Y,
         rng=[-30, -12], yticks=SPAIN_Y_TICKS, box=(65.4, 684, 43.3, 466.7), t_y=16, t_x=360, xt_y=507, xt_x=381, leg=(65, 371)),
    dict(title="Brazil", none=BRAZIL_NONE, spoken=BRAZIL_SPOKEN, native=BRAZIL_NATIVE, lx=BRAZIL_LINE_X, ly=BRAZIL_LINE_Y,
         rng=[-35, -15], yticks=BRAZIL_Y_TICKS, box=(72.5, 677, 574, 987.7), t_y=548, t_x=360, xt_y=1028, xt_x=382, leg=(72, 893)),
    dict(title="Japan", none=JAPAN_NONE, spoken=JAPAN_SPOKEN, native=JAPAN_NATIVE, lx=JAPAN_LINE_X, ly=JAPAN_LINE_Y,
         rng=[-30, -12], yticks=JAPAN_Y_TICKS, box=(73.4, 675.5, 1094, 1506), t_y=1069, t_x=374, xt_y=1546, xt_x=381, leg=(74, 1412)),
]

fig = go.Figure()
layout = dict(width=W, height=H, autosize=False, margin=dict(l=0, r=0, t=0, b=0, pad=0),
              paper_bgcolor="white", plot_bgcolor="white", font=dict(family="Lato", size=13.5, color="#1a1a1a"),
              annotations=[])
for i, c in enumerate(CHARTS):
    n = "" if i == 0 else str(i + 1)
    lname = "legend" + n
    for name, color, cols in zip(SERIES_NAMES[:3], COLORS[:3], (c["none"], c["spoken"], c["native"])):
        xs, ys = flatten(cols)
        fig.add_trace(go.Scatter(x=xs, y=ys, mode="markers", name=name, xaxis="x" + n, yaxis="y" + n,
                                 marker=dict(color=color, size=9), legend=lname, legendgroup=f"{i}{name}"))
    fig.add_trace(go.Scatter(x=c["lx"], y=c["ly"], mode="lines", name=SERIES_NAMES[3], xaxis="x" + n, yaxis="y" + n,
                             line=dict(color=COLORS[3], width=3), legend=lname, legendgroup=f"{i}line"))
    l, r, t, b = c["box"]
    axis = dict(showgrid=False, zeroline=False, showline=True, mirror=True, linecolor="#868686", linewidth=1.5,
                ticks="outside", tickcolor="#868686", ticklen=5, automargin=False, tickfont=dict(family="Lato", size=14))
    layout["xaxis" + n] = dict(axis, domain=[l / W, r / W], anchor="y" + n, range=[6, 10], tickmode="array",
                               tickvals=X_TICKS, ticktext=[str(v) for v in X_TICKS], ticklabelstandoff=2)
    layout["yaxis" + n] = dict(axis, domain=[1 - b / H, 1 - t / H], anchor="x" + n, range=c["rng"], tickmode="array",
                               tickvals=c["yticks"], ticktext=[str(v) for v in c["yticks"]], ticklabelstandoff=5,
                               title=dict(text="<b>Real Bilateral Trade/Product of Real GDP (in logs)</b>",
                                          font=dict(family="Lato", size=14), standoff=2))
    layout[lname] = dict(x=c["leg"][0] / W, y=1 - c["leg"][1] / H, xanchor="left", yanchor="top", bgcolor="rgba(0,0,0,0)",
                         tracegroupgap=7.6, itemwidth=30, font=dict(family="Lato", size=13.8), traceorder="normal",
                         itemclick=False, itemdoubleclick=False)
    layout["annotations"].append(dict(text=f"<b>{c['title']}</b>", x=c["t_x"] / W, y=1 - c["t_y"] / H, xref="paper", yref="paper",
                                      showarrow=False, xanchor="center", yanchor="middle", font=dict(family="Lato", size=18, color="#000")))
    layout["annotations"].append(dict(text="<b>Distance (in logs)</b>", x=c["xt_x"] / W, y=1 - c["xt_y"] / H, xref="paper", yref="paper",
                                      showarrow=False, xanchor="center", yanchor="middle", font=dict(family="Lato", size=13.8, color="#000")))
fig.update_layout(**layout)
fig.write_html("out.html", post_script="document.body.style.margin='0';", config={"displayModeBar": False})
